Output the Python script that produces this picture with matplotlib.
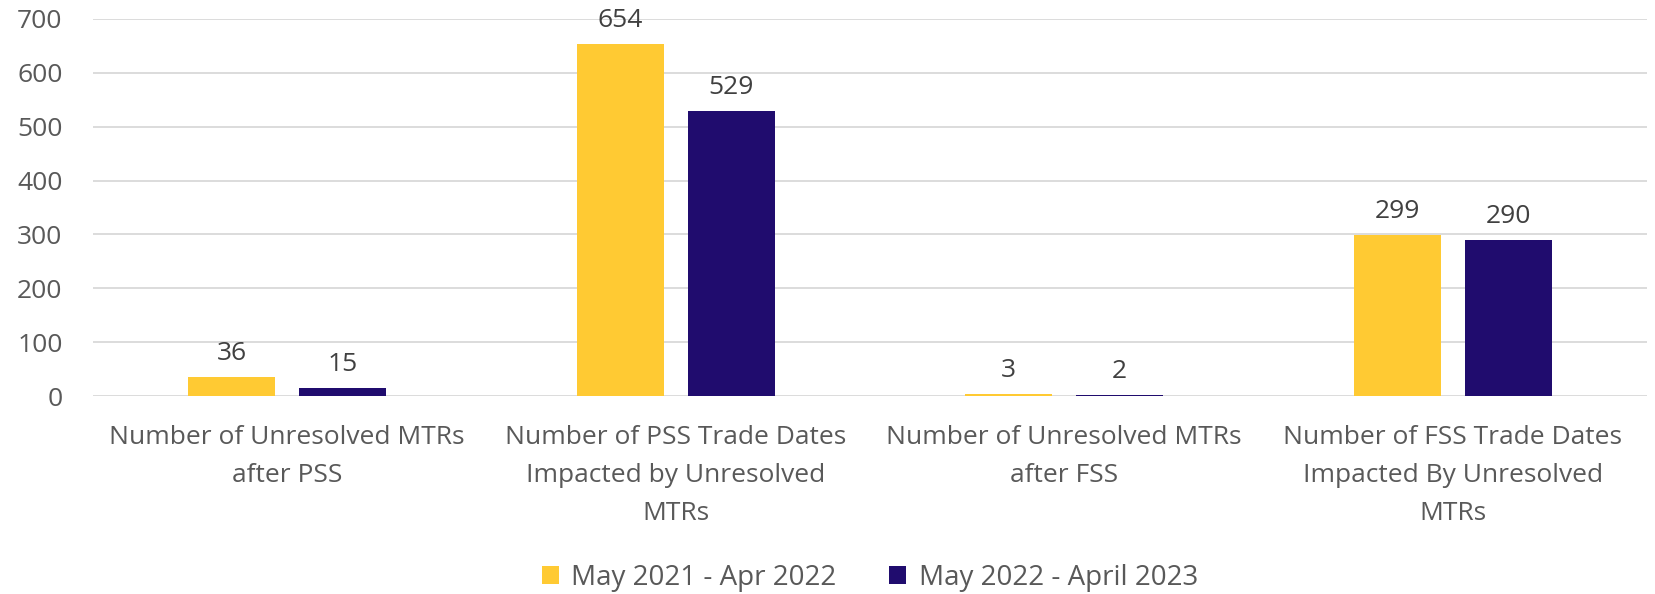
import matplotlib
matplotlib.use("Agg")
import matplotlib.pyplot as plt
import numpy as np

categories = ["Number of Unresolved MTRs\nafter PSS",
              "Number of PSS Trade Dates\nImpacted by Unresolved\nMTRs",
              "Number of Unresolved MTRs\nafter FSS",
              "Number of FSS Trade Dates\nImpacted By Unresolved\nMTRs"]
series_names = ["May 2021 - Apr 2022", "May 2022 - April 2023"]
values_2122 = [36, 654, 3, 299]
values_2223 = [15, 529, 2, 290]
colors = ["#FFCA33", "#200C6E"]

plt.rcParams['font.family'] = ['Open Sans', 'DejaVu Sans']
FS = 19

fig = plt.figure(figsize=(16.56, 5.94), dpi=100)
ax = fig.add_axes([93/1656, 1 - 396/594, (1647-93)/1656, (396-19)/594])

x = np.arange(len(categories))
w = 0.224
off = 0.143
b1 = ax.bar(x - off, values_2122, w, color=colors[0], label=series_names[0], zorder=3)
b2 = ax.bar(x + off, values_2223, w, color=colors[1], label=series_names[1], zorder=3)
for bars in (b1, b2):
    ax.bar_label(bars, padding=8, fontsize=FS, color="#404040")

ax.set_xlim(-0.5, 3.5)
ax.set_ylim(0, 700)
ax.set_yticks(range(0, 701, 100))
ax.yaxis.grid(True, color="#D9D9D9", linewidth=1.3, zorder=0)
ax.set_axisbelow(True)
for s in ax.spines.values():
    s.set_visible(False)
ax.tick_params(axis='both', length=0, labelsize=FS, colors="#595959")
ax.tick_params(axis='y', pad=22)
ax.tick_params(axis='x', pad=21)
ax.set_xticks(x)
ax.set_xticklabels(categories, linespacing=1.68)

ax.legend(loc="center", bbox_to_anchor=(0.5, (396 - 578) / 377), ncol=2, frameon=False,
          fontsize=20, labelcolor="#595959", handlelength=0.6, handleheight=0.6,
          columnspacing=1.9, handletextpad=0.45)

fig.savefig("out.png", dpi=100)
